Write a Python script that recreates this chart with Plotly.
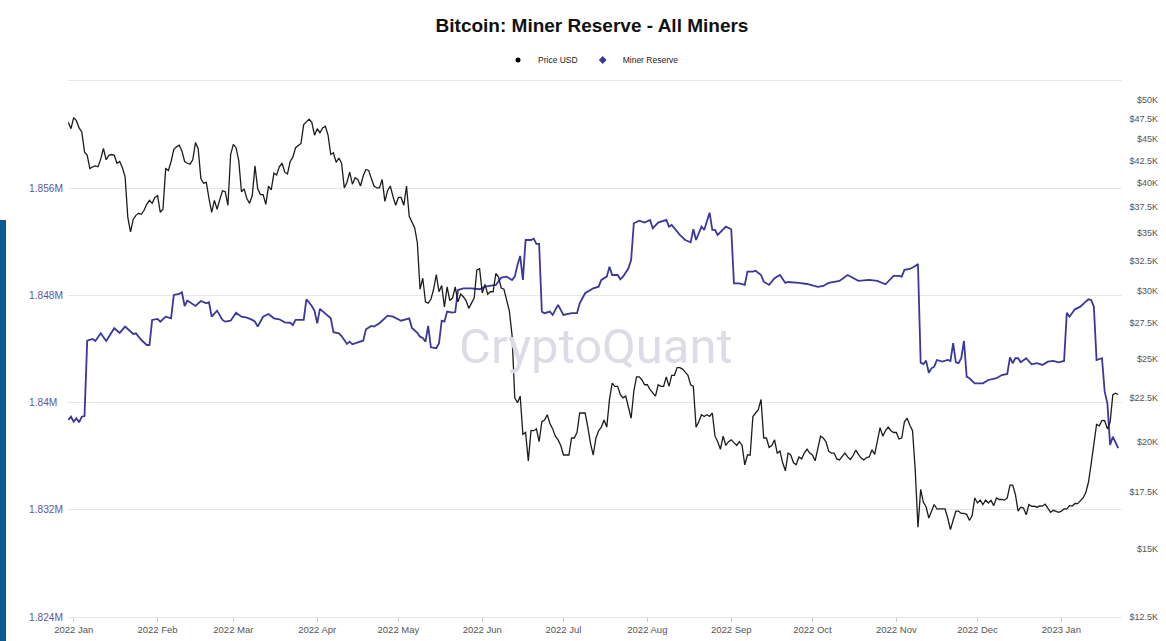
import pandas as pd
import plotly.graph_objects as go

# ---------------- data ----------------
price_start = "2021-12-30"          # first daily close shown
price_usd_k = [
    47.1, 46.3,
    # 2022 Jan
    47.7, 47.3, 46.4, 45.9, 43.5, 43.1, 41.6, 41.8, 41.9, 41.8, 42.7, 43.9, 42.6, 43.1, 43.2, 43.1,
    42.2, 42.4, 41.7, 40.7, 36.5, 35.1, 36.3, 36.7, 36.9, 36.8, 37.2, 37.8, 38.2, 37.9, 38.5,
    # Feb
    38.7, 37.0, 37.3, 41.6, 41.4, 42.4, 43.8, 44.1, 44.3, 43.6, 42.4, 42.2, 42.1, 42.6, 44.6, 43.9,
    40.5, 40.0, 40.1, 38.4, 37.0, 38.2, 37.3, 38.3, 39.2, 39.1, 37.7, 43.2,
    # Mar
    44.4, 44.0, 42.5, 39.1, 39.4, 38.4, 37.9, 38.7, 41.9, 39.4, 38.8, 38.8, 37.8, 39.7, 39.3, 41.1,
    40.9, 41.8, 42.2, 41.2, 41.0, 42.4, 42.9, 44.0, 44.3, 44.5, 46.8, 47.1, 47.5, 47.1, 45.5,
    # Apr
    46.3, 45.8, 46.4, 46.6, 45.5, 43.2, 43.4, 42.3, 42.8, 42.2, 39.5, 40.1, 41.2, 39.9, 40.6, 40.4,
    39.7, 40.8, 41.5, 41.4, 40.5, 39.7, 39.5, 39.5, 40.4, 38.1, 39.2, 39.7, 38.6, 37.7,
    # May
    38.5, 38.5, 37.7, 39.7, 36.6, 36.0, 35.5, 34.1, 30.1, 31.0, 29.1, 29.0, 29.3, 30.1, 31.3, 29.9,
    30.4, 28.7, 30.3, 29.2, 29.4, 30.3, 29.1, 29.7, 29.5, 29.2, 28.6, 29.0, 29.4, 31.7, 31.8,
    # Jun
    29.8, 30.5, 29.7, 29.9, 29.9, 31.4, 31.1, 30.2, 30.1, 29.1, 28.4, 26.6, 22.5, 22.2, 22.6, 20.4,
    20.5, 19.0, 20.6, 20.6, 20.7, 20.0, 21.1, 21.2, 21.5, 21.0, 20.7, 20.3, 20.1, 19.8,
    # Jul
    19.3, 19.3, 19.3, 20.2, 20.2, 20.5, 21.6, 21.6, 21.6, 20.8, 19.9, 19.3, 20.2, 20.6, 20.8, 21.2,
    20.8, 22.4, 23.4, 23.2, 23.2, 22.7, 22.5, 22.6, 22.0, 21.3, 22.9, 23.8, 23.8, 23.6, 23.3,
    # Aug
    23.3, 23.0, 22.8, 22.6, 23.3, 23.2, 23.2, 23.8, 23.2, 23.9, 23.9, 24.4, 24.4, 24.3, 24.1, 23.9,
    23.3, 23.2, 20.8, 21.1, 21.5, 21.4, 21.5, 21.4, 21.6, 20.3, 20.0, 19.6, 20.3, 19.8, 20.0,
    # Sep
    20.1, 19.95, 19.8, 20.0, 19.8, 18.8, 19.3, 19.3, 21.4, 21.6, 21.8, 22.4, 20.2, 20.2, 19.7, 19.8,
    20.1, 19.4, 19.5, 18.9, 18.5, 19.4, 19.3, 18.9, 18.8, 19.2, 19.1, 19.4, 19.6, 19.4,
    # Oct
    19.3, 19.0, 19.6, 20.3, 20.2, 20.0, 19.5, 19.4, 19.4, 19.1, 19.05, 19.2, 19.4, 19.2, 19.07, 19.26,
    19.55, 19.33, 19.14, 19.05, 19.17, 19.2, 19.57, 19.33, 20.08, 20.77, 20.3, 20.6, 20.8, 20.6, 20.5,
    # Nov
    20.5, 20.15, 20.2, 21.1, 21.3, 20.9, 20.6, 18.5, 15.9, 17.6, 17.0, 16.8, 16.3, 16.6, 16.9, 16.7,
    16.7, 16.7, 16.7, 16.3, 15.8, 16.2, 16.6, 16.6, 16.5, 16.5, 16.46, 16.2, 16.4, 17.2,
    # Dec
    16.97, 17.1, 16.9, 17.1, 16.97, 17.09, 16.85, 17.2, 17.13, 17.13, 17.1, 17.2, 17.8, 17.8, 17.36, 16.6,
    16.78, 16.74, 16.44, 16.9, 16.82, 16.83, 16.78, 16.84, 16.83, 16.92, 16.7, 16.55, 16.64, 16.6, 16.55,
    # 2023 Jan
    16.6, 16.7, 16.7, 16.85, 16.83, 16.95, 16.94, 17.09, 17.2, 17.44, 17.94, 18.85, 19.93, 20.95, 20.87,
    21.17, 21.16, 20.7, 21.07, 22.67, 22.78, 22.7,
]

reserve_origin = "2022-01-01"
reserve_day = [
    -2, -1, 0, 1, 2, 3, 4, 5, 7, 8,
    10, 12, 13, 15, 17, 19, 20, 22, 23, 25,
    27, 28, 29, 31, 32, 34, 36, 37, 39, 40,
    41, 42, 45, 47, 49, 50, 51, 53, 55, 56,
    58, 60, 62, 64, 66, 67, 68, 70, 72, 74,
    76, 78, 80, 81, 82, 85, 86, 88, 89, 90,
    91, 93, 95, 96, 98, 99, 101, 102, 103, 105,
    107, 108, 110, 111, 113, 116, 118, 121, 124, 125,
    127, 128, 129, 130, 131, 132, 134, 135, 136, 137,
    138, 140, 141, 142, 144, 147, 150, 152, 156, 158,
    160, 162, 163, 164, 165, 166, 167, 169, 170, 171,
    172, 173, 174, 176, 177, 179, 181, 184, 186, 187,
    189, 192, 194, 195, 197, 198, 199, 201, 202, 203,
    205, 206, 207, 209, 211, 213, 214, 216, 219, 220,
    221, 224, 226, 228, 229, 230, 232, 233, 235, 236,
    237, 238, 240, 241, 243, 244, 246, 248, 249, 251,
    252, 254, 255, 257, 259, 261, 263, 264, 268, 271,
    275, 277, 279, 283, 286, 288, 290, 294, 297, 300,
    303, 305, 306, 307, 309, 311, 312, 313, 314, 315,
    316, 317, 318, 319, 321, 323, 324, 325, 326, 327,
    328, 329, 330, 331, 333, 336, 338, 341, 343, 345,
    346, 347, 348, 349, 350, 352, 354, 356, 358, 360,
    362, 364, 366, 367, 368, 370, 372, 374, 375, 376,
    377, 378, 380, 381, 382, 383, 384, 386,
]
reserve_btc = [
    1838700, 1838940, 1838570, 1838820, 1838520, 1838940, 1838990, 1844610, 1844740, 1844590,
    1845160, 1844590, 1844910, 1845540, 1845190, 1845660, 1845480, 1845110, 1845160, 1844660,
    1844290, 1844290, 1846160, 1846230, 1846030, 1846400, 1846280, 1848020, 1848100, 1848220,
    1847200, 1847600, 1847200, 1847570, 1847400, 1847480, 1846400, 1846850, 1846160, 1846030,
    1846100, 1846700, 1846400, 1846330, 1846160, 1846030, 1845660, 1846400, 1846600, 1846280,
    1846210, 1845980, 1845950, 1845780, 1846160, 1846160, 1847700, 1847200, 1846830, 1845910,
    1846980, 1846660, 1846280, 1845240, 1845160, 1844960, 1844370, 1844540, 1844340, 1844490,
    1844610, 1845460, 1845710, 1845660, 1845910, 1846480, 1846400, 1846100, 1846270, 1845560,
    1845190, 1844910, 1844810, 1844540, 1845710, 1844120, 1844050, 1844420, 1846100, 1846030,
    1846780, 1846700, 1846750, 1848390, 1848520, 1848520, 1848450, 1848640, 1848770, 1849310,
    1849390, 1849140, 1849390, 1850260, 1850930, 1849140, 1852120, 1852120, 1852220, 1851830,
    1851830, 1846780, 1846660, 1846780, 1846530, 1847280, 1846530, 1846660, 1846660, 1847400,
    1848150, 1848520, 1848640, 1849140, 1849390, 1850130, 1849510, 1849510, 1849190, 1849390,
    1850010, 1850630, 1853370, 1853560, 1853420, 1853620, 1853000, 1853420, 1853620, 1853120,
    1853240, 1852500, 1852120, 1851950, 1852920, 1852120, 1853120, 1852870, 1854160, 1852870,
    1852870, 1852500, 1852870, 1853120, 1852920, 1848890, 1848890, 1848770, 1849760, 1849760,
    1849830, 1849510, 1849010, 1848770, 1849270, 1849510, 1848920, 1848990, 1848920, 1848840,
    1848620, 1848690, 1848920, 1849070, 1849510, 1849290, 1849070, 1849140, 1849070, 1848820,
    1849440, 1849440, 1849390, 1849890, 1849960, 1850180, 1850330, 1842970, 1842870, 1843120,
    1842220, 1842550, 1842670, 1843170, 1843050, 1843170, 1843100, 1844420, 1843000, 1842930,
    1843300, 1844590, 1841930, 1841810, 1841430, 1841430, 1841680, 1841810, 1842050, 1842130,
    1843370, 1842930, 1843300, 1843300, 1843000, 1843300, 1842850, 1842930, 1842800, 1843050,
    1843100, 1843000, 1843100, 1846700, 1846400, 1846950, 1847150, 1847520, 1847700, 1847650,
    1847150, 1843170, 1843300, 1840810, 1839940, 1836830, 1837450, 1836590,
]
assert len(reserve_day) == len(reserve_btc)

left_ticks = [1824000, 1832000, 1840000, 1848000, 1856000, 1864000]
left_labels = ["1.824M", "1.832M", "1.84M", "1.848M", "1.856M", ""]
right_ticks = [12500, 15000, 17500, 20000, 22500, 25000, 27500, 30000, 32500,
               35000, 37500, 40000, 42500, 45000, 47500, 50000]
right_labels = ["$12.5K", "$15K", "$17.5K", "$20K", "$22.5K", "$25K", "$27.5K", "$30K",
                "$32.5K", "$35K", "$37.5K", "$40K", "$42.5K", "$45K", "$47.5K", "$50K"]

title_text = "Bitcoin: Miner Reserve - All Miners"
price_name = "Price USD"
reserve_name = "Miner Reserve"

# ---------------- derived ----------------
price_dates = pd.date_range(price_start, periods=len(price_usd_k), freq="D")
price_usd = [v * 1000 for v in price_usd_k]
reserve_dates = pd.Timestamp(reserve_origin) + pd.to_timedelta(reserve_day, unit="D")

PRICE_COLOR = "#1c1c1c"
RESERVE_COLOR = "#3b379b"
FONT = "Liberation Sans, Arial, Helvetica, sans-serif"
W, H = 1166, 641

fig = go.Figure()
fig.add_trace(go.Scatter(x=price_dates, y=price_usd, name=price_name, mode="lines",
                         line=dict(color=PRICE_COLOR, width=1.3), yaxis="y2",
                         showlegend=False, legendgroup="p"))
fig.add_trace(go.Scatter(x=reserve_dates, y=reserve_btc, name=reserve_name, mode="lines",
                         line=dict(color=RESERVE_COLOR, width=1.8), yaxis="y",
                         showlegend=False, legendgroup="r"))
# legend entries (dot markers as in the reference legend)
fig.add_trace(go.Scatter(x=[None], y=[None], name=price_name, mode="markers",
                         marker=dict(color="#000000", size=5, symbol="circle"),
                         legendgroup="p", yaxis="y2"))
fig.add_trace(go.Scatter(x=[None], y=[None], name=reserve_name, mode="markers",
                         marker=dict(color=RESERVE_COLOR, size=6, symbol="diamond"),
                         legendgroup="r"))

# pixel geometry of the plot area (paper = y from px_top to the bottom of the page)
px_left, px_right, px_top, px_bottom = 68, 1122, 78, 617
PH = H - px_top                      # paper height in px
lin_per_px = 8000 / 107.25
log_per_px = 0.60206 / 517
y_lo = 1824000 - (H - px_bottom) * lin_per_px
y_hi = 1824000 + (px_bottom - px_top) * lin_per_px
y2_lo = 4.09691 - (H - px_bottom) * log_per_px
y2_hi = 4.09691 + (px_bottom - px_top) * log_per_px

x0 = pd.Timestamp("2022-01-01") + pd.Timedelta(days=-2.1)
x1 = pd.Timestamp("2022-01-01") + pd.Timedelta(days=387.4)

fig.update_layout(
    width=W, height=H, autosize=False,
    margin=dict(l=0, r=0, t=px_top, b=0, pad=0),
    paper_bgcolor="white", plot_bgcolor="white",
    font=dict(family=FONT, color="#333"),
    title=dict(text="<b>" + title_text + "</b>", x=592 / W, xref="container", xanchor="center",
               y=1 - 25 / H, yref="container", yanchor="middle",
               font=dict(size=19, color="#111", family=FONT)),
    legend=dict(orientation="h", x=591 / W, xanchor="center", xref="container",
                y=1 - 60 / H, yanchor="middle", yref="container",
                font=dict(size=8.5, color="#222", family=FONT),
                itemwidth=30, tracegroupgap=0, bgcolor="rgba(0,0,0,0)"),
    xaxis=dict(type="date", domain=[px_left / W, px_right / W], range=[x0, x1],
               anchor="free", position=(H - px_bottom) / PH, automargin=False,
               tick0="2022-01-01", dtick="M1", tickformat="%Y %b",
               showgrid=False, zeroline=False, showline=False,
               ticks="outside", ticklen=4, tickcolor="#cccccc",
               tickfont=dict(size=9.5, color="#555", family=FONT)),
    yaxis=dict(domain=[0, 1], range=[y_lo, y_hi],
               anchor="free", position=25 / W, side="left", automargin=False,
               ticklabelposition="inside", ticks="",
               tickmode="array", tickvals=left_ticks, ticktext=left_labels,
               showgrid=True, gridcolor="#e6e6e6", gridwidth=1,
               zeroline=False, showline=False,
               tickfont=dict(size=10.2, color="#5b57a8", family=FONT)),
    yaxis2=dict(type="log", overlaying="y", range=[y2_lo, y2_hi],
                anchor="free", position=1161 / W, side="right", automargin=False,
                ticklabelposition="inside", ticks="",
                tickmode="array", tickvals=right_ticks, ticktext=right_labels,
                showgrid=False, zeroline=False, showline=False,
                tickfont=dict(size=9, color="#555", family=FONT)),
    annotations=[dict(text="CryptoQuant", x=596 / W, y=(H - 346) / PH, xref="paper", yref="paper",
                      showarrow=False, font=dict(size=49, color="#dcdce6", family="Roboto"),
                      xanchor="center", yanchor="middle")],
    shapes=[dict(type="rect", xref="paper", yref="paper", x0=0, x1=6 / W,
                 y0=0, y1=(H - 220) / PH, fillcolor="#0b5a95", line=dict(width=0), layer="above")],
)

fig.write_html("out.html", config={"displayModeBar": False},
               post_script="document.body.style.margin='0px';document.body.style.overflow='hidden';")
